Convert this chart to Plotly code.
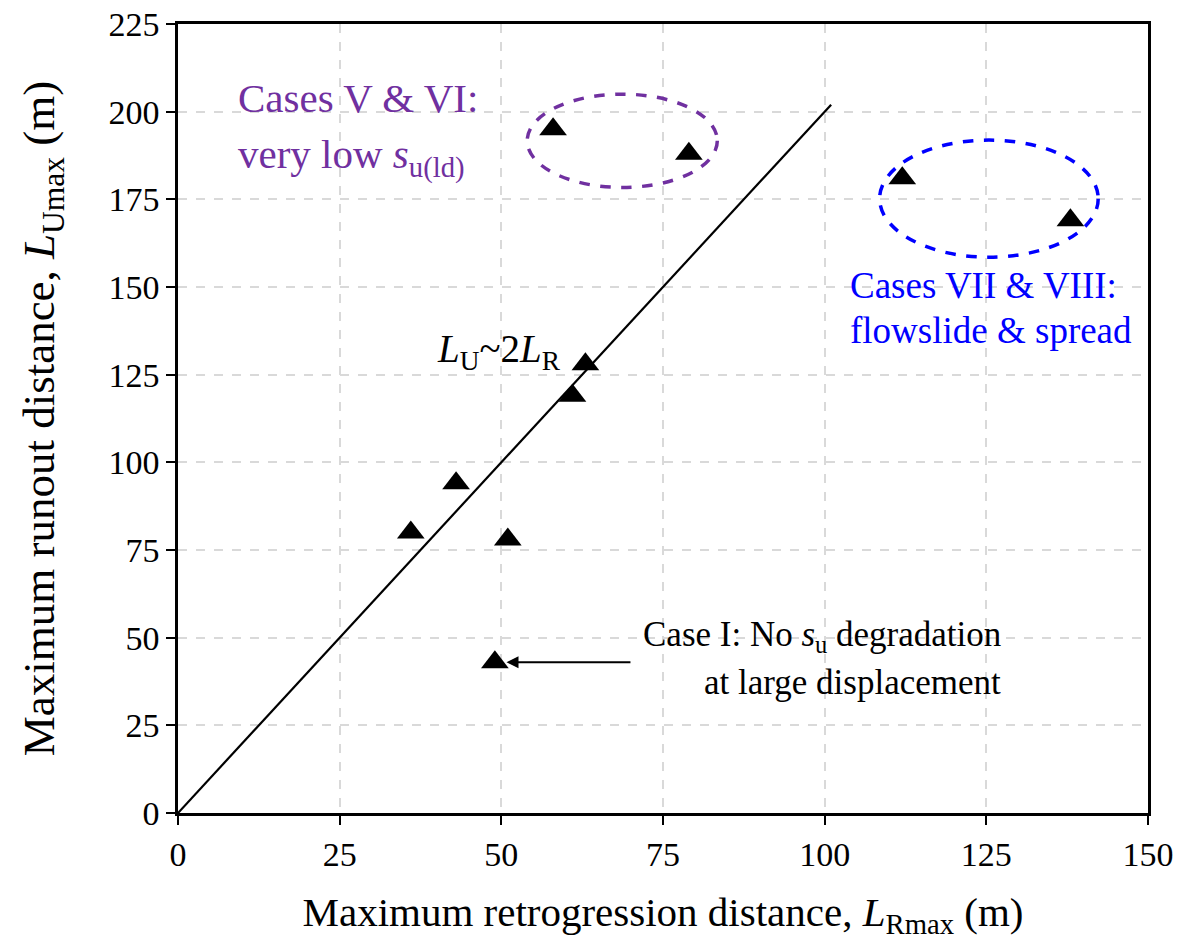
import plotly.graph_objects as go

# Maximum retrogression (L_Rmax) and runout (L_Umax) distances, m
retrogression_m = [36, 43, 51, 49, 61, 63, 58, 79, 112, 138]
runout_m = [80, 94, 78, 43, 119, 128, 195, 188, 181, 169]

# Reference trend L_U ~ 2 L_R
trend_x = [0, 101]
trend_y = [0, 202]

# Grouping ellipses: (x center, y center, x radius, y radius)
group_v_vi = (68.7, 191.7, 14.7, 13.3)
group_vii_viii = (125.4, 175.2, 16.9, 16.7)

x_ticks = [0, 25, 50, 75, 100, 125, 150]
y_ticks = [0, 25, 50, 75, 100, 125, 150, 175, 200, 225]

SERIF = "Liberation Serif, Times New Roman, serif"
PURPLE = "#7030A0"
BLUE = "#0000FF"

fig = go.Figure()

fig.add_trace(go.Scatter(
    x=trend_x, y=trend_y, mode="lines",
    line=dict(color="black", width=2.2), showlegend=False, hoverinfo="skip",
))

fig.add_trace(go.Scatter(
    x=retrogression_m, y=runout_m, mode="markers",
    marker=dict(symbol="triangle-up", size=24, color="black"),
    showlegend=False,
))


def ellipse(c, color):
    cx, cy, rx, ry = c
    return dict(type="circle", xref="x", yref="y",
                x0=cx - rx, x1=cx + rx, y0=cy - ry, y1=cy + ry,
                line=dict(color=color, width=3.5, dash="dash"))


fig.add_shape(**ellipse(group_v_vi, PURPLE))
fig.add_shape(**ellipse(group_vii_viii, BLUE))


def label(text, x, y, size, color="black", xanchor="left"):
    fig.add_annotation(x=x, y=y, xref="x", yref="y", text=text, showarrow=False,
                       xanchor=xanchor, yanchor="middle",
                       font=dict(family=SERIF, size=size, color=color))


label("Cases V &amp; VI:", 8.9, 204.0, 41, PURPLE)
label("very low <i>s</i><sub>u(ld)</sub>", 8.9, 187.0, 41, PURPLE)
label("Cases VII &amp; VIII:", 103.6, 150.5, 37, BLUE)
label("flowslide &amp; spread", 103.6, 137.7, 37, BLUE)
label("<i>L</i><sub>U</sub>~2<i>L</i><sub>R</sub>", 39.7, 131.5, 39)
label("Case I: No <i>s</i><sub>u</sub> degradation", 127.6, 50.3, 35, xanchor="right")
label("at large displacement", 127.6, 37.3, 35, xanchor="right")

# Arrow pointing at Case I
fig.add_annotation(x=50.8, y=43, ax=70.2, ay=43, xref="x", yref="y",
                   axref="x", ayref="y", text="", showarrow=True,
                   arrowhead=2, arrowsize=1.2, arrowwidth=2, arrowcolor="black")

grid = dict(showgrid=True, gridcolor="#d9d9d9", gridwidth=1.5, griddash="dash")
axis_common = dict(showline=True, linecolor="black", linewidth=2.5, mirror=True,
                   ticks="outside", ticklen=9, tickwidth=2, tickcolor="black",
                   zeroline=False, tickfont=dict(family=SERIF, size=34, color="black"),
                   **grid)

fig.update_xaxes(range=[0, 150], tickvals=x_ticks, **axis_common,
                 title=dict(text="Maximum retrogression distance, <i>L</i><sub>Rmax</sub> (m)",
                            font=dict(family=SERIF, size=41, color="black"), standoff=26))
fig.update_yaxes(range=[0, 225], tickvals=y_ticks, **axis_common,
                 title=dict(text="Maximum runout distance, <i>L</i><sub>Umax</sub> (m)",
                            font=dict(family=SERIF, size=45, color="black"), standoff=40))

fig.update_layout(
    width=1185, height=942,
    margin=dict(l=178, r=37, t=24, b=129, autoexpand=False),
    plot_bgcolor="white", paper_bgcolor="white",
)

fig.write_html("out.html")
